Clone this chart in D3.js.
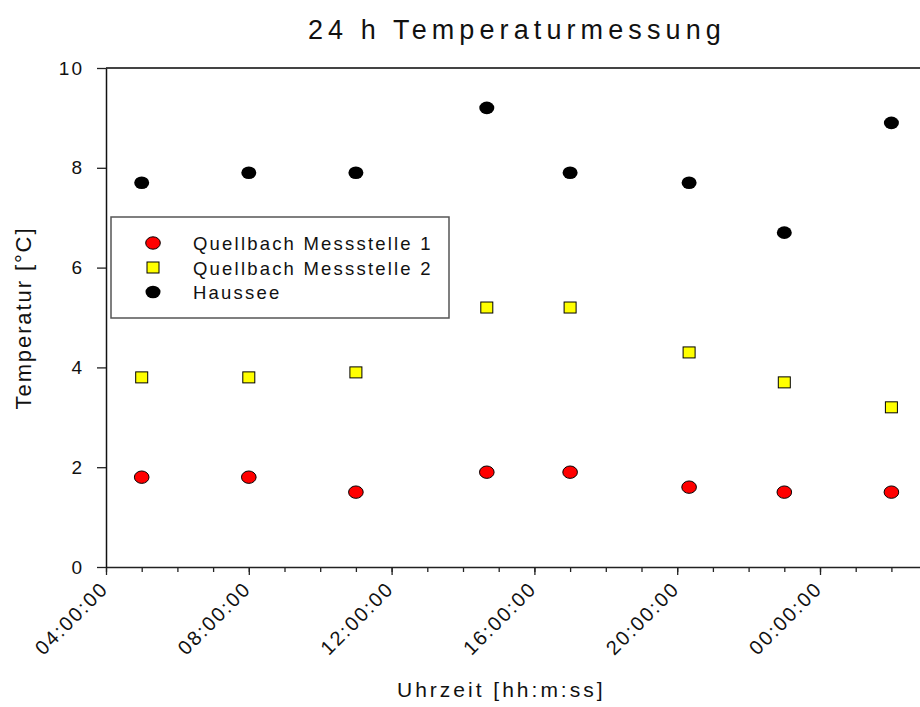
<!DOCTYPE html>
<html>
<head>
<meta charset="utf-8">
<script src="https://cdn.jsdelivr.net/npm/d3@7"></script>
<style>
  body { margin: 0; background: white; }
  svg { font-family: "Liberation Sans", Arial, sans-serif; display: block; }
</style>
</head>
<body>
<div id="chart"></div>
<script>
"use strict"

// measurement times (day 1 = 1 Jan, next day = 2 Jan)
const times = ["2000-01-01T05:00", "2000-01-01T08:00", "2000-01-01T11:00", "2000-01-01T14:40",
               "2000-01-01T17:00", "2000-01-01T20:20", "2000-01-01T23:00", "2000-01-02T02:00"]
const quelle1 = [1.8, 1.8, 1.5, 1.9, 1.9, 1.6, 1.5, 1.5]
const quelle2 = [3.8, 3.8, 3.9, 5.2, 5.2, 4.3, 3.7, 3.2]
const haussee = [7.7, 7.9, 7.9, 9.2, 7.9, 7.7, 6.7, 8.9]
const seriesNames = ["Quellbach Messstelle 1", "Quellbach Messstelle 2", "Haussee"]
const yTicks = [0, 2, 4, 6, 8, 10]

const width = 920, height = 707
const margin = {top: 68, bottom: 140, left: 106}
const pxPerHour = 35.7

const parse = d3.timeParse("%Y-%m-%dT%H:%M")
const dates = times.map(parse)

const svg = d3.select("#chart").append("svg")
  .attr("width", width)
  .attr("height", height)

const x = d3.scaleTime()
  .domain([parse("2000-01-01T04:00"), parse("2000-01-02T03:00")])
  .range([margin.left, margin.left + 23 * pxPerHour])

const y = d3.scaleLinear()
  .domain([0, 10])
  .range([height - margin.bottom, margin.top])

const y0 = y(0)

// top frame line
svg.append("line")
  .attr("x1", margin.left).attr("x2", width)
  .attr("y1", y(10)).attr("y2", y(10))
  .attr("stroke", "#444").attr("stroke-width", 2)

// minor x ticks
const minor = svg.append("g")
  .attr("transform", `translate(0,${y0})`)
  .call(d3.axisBottom(x).ticks(d3.timeHour.every(1)).tickSize(5).tickFormat(""))
minor.select(".domain").remove()
minor.selectAll("line").attr("stroke", "#222").attr("stroke-width", 1.3)

// major x axis
const xAxis = svg.append("g")
  .attr("transform", `translate(0,${y0})`)
  .call(d3.axisBottom(x).ticks(d3.timeHour.every(4)).tickSize(8).tickSizeOuter(0)
    .tickFormat(d3.timeFormat("%H:%M:%S")))
xAxis.select(".domain").attr("stroke", "#222").attr("stroke-width", 1.5)
xAxis.selectAll("line").attr("stroke", "#222").attr("stroke-width", 1.3)
xAxis.selectAll("text")
  .attr("font-size", 20)
  .attr("letter-spacing", 2)
  .attr("fill", "#111")
  .style("text-anchor", "end")
  .attr("x", 0).attr("y", 0).attr("dy", 0)
  .attr("transform", "translate(3,23) rotate(-45)")

// y axis
const yAxis = svg.append("g")
  .attr("transform", `translate(${margin.left},0)`)
  .call(d3.axisLeft(y).tickValues(yTicks).tickSize(9).tickSizeOuter(0).tickPadding(13))
yAxis.select(".domain").attr("stroke", "#111").attr("stroke-width", 1.5)
yAxis.selectAll("line").attr("stroke", "#222").attr("stroke-width", 1.3)
yAxis.selectAll("text").attr("font-size", 19).attr("letter-spacing", 2).attr("fill", "#111")

// points
const pts = svg.append("g")

pts.selectAll(".h").data(haussee).enter().append("ellipse")
  .attr("cx", (d, i) => x(dates[i])).attr("cy", d => y(d))
  .attr("rx", 7.5).attr("ry", 6.3).attr("fill", "#000")

pts.selectAll(".q2").data(quelle2).enter().append("rect")
  .attr("x", (d, i) => x(dates[i]) - 6).attr("y", d => y(d) - 5.5)
  .attr("width", 12).attr("height", 11)
  .attr("fill", "#ffff00").attr("stroke", "#000").attr("stroke-width", 1)

pts.selectAll(".q1").data(quelle1).enter().append("ellipse")
  .attr("cx", (d, i) => x(dates[i])).attr("cy", d => y(d))
  .attr("rx", 7.3).attr("ry", 6.2)
  .attr("fill", "#ff0000").attr("stroke", "#000").attr("stroke-width", 1)

// legend
const lg = svg.append("g").attr("transform", "translate(111,217)")
lg.append("rect")
  .attr("x", 0).attr("y", 0).attr("width", 338).attr("height", 101)
  .attr("fill", "white").attr("stroke", "#555").attr("stroke-width", 1.5)

seriesNames.forEach((name, i) => {
  const cy = 26 + i * 24.5
  if (i == 0) {
    lg.append("ellipse").attr("cx", 42).attr("cy", cy).attr("rx", 7.3).attr("ry", 6.2)
      .attr("fill", "#ff0000").attr("stroke", "#000")
  } else if (i == 1) {
    lg.append("rect").attr("x", 36).attr("y", cy - 5.5).attr("width", 12).attr("height", 11)
      .attr("fill", "#ffff00").attr("stroke", "#000")
  } else {
    lg.append("ellipse").attr("cx", 42).attr("cy", cy).attr("rx", 7.5).attr("ry", 6.3)
      .attr("fill", "#000")
  }
  lg.append("text")
    .attr("x", 82).attr("y", cy + 7)
    .attr("font-size", 18.5).attr("letter-spacing", 2.2).attr("fill", "#111")
    .text(name)
})

// title and axis labels
svg.append("text")
  .attr("x", 308).attr("y", 39)
  .attr("font-size", 27).attr("letter-spacing", 5.1).attr("fill", "#111")
  .text("24 h Temperaturmessung")

svg.append("text")
  .attr("x", 397).attr("y", 697)
  .attr("font-size", 21).attr("letter-spacing", 3).attr("fill", "#111")
  .text("Uhrzeit [hh:m:ss]")

svg.append("text")
  .attr("transform", "translate(31,318) rotate(-90)")
  .attr("text-anchor", "middle")
  .attr("font-size", 22).attr("letter-spacing", 1.9).attr("fill", "#111")
  .text("Temperatur [°C]")
</script>
</body>
</html>
